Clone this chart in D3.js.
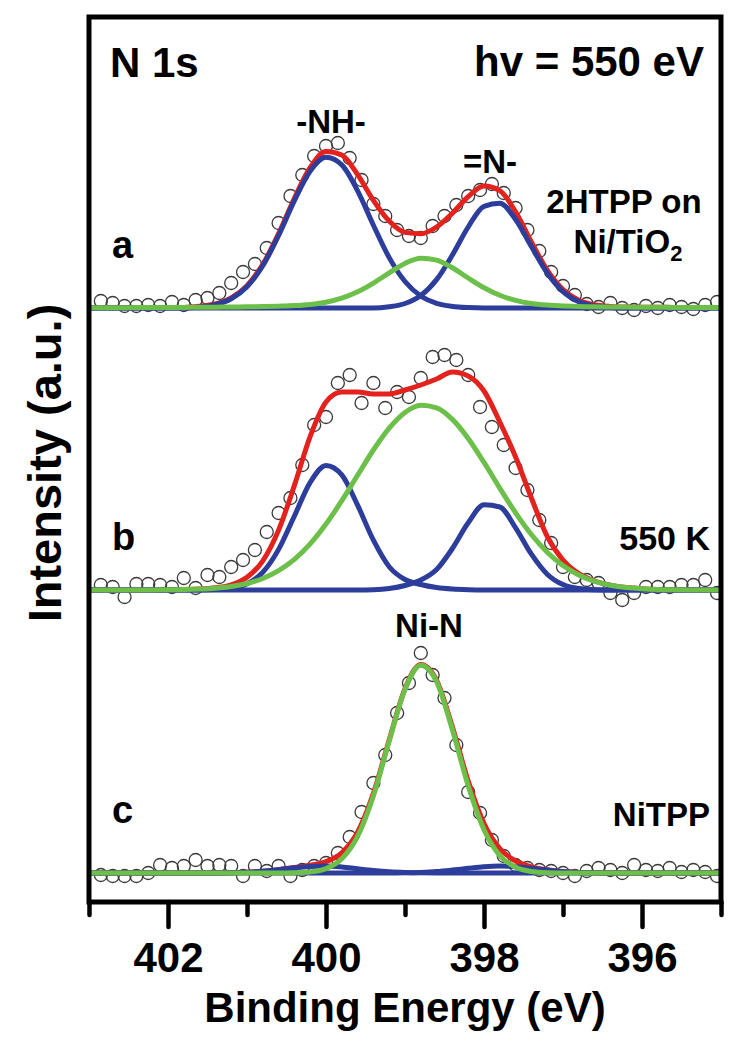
<!DOCTYPE html>
<html>
<head>
<meta charset="utf-8">
<script src="https://cdn.jsdelivr.net/npm/d3@7"></script>
<style>
  html, body { margin: 0; padding: 0; background: #ffffff; }
  svg { display: block; }
  text { font-family: "Liberation Sans", Arial, Helvetica, sans-serif; font-weight: bold; fill: #000; }
</style>
</head>
<body>
<div id="chart"></div>
<script>
// ---------------- DATA ----------------
// energy grid for the fitted curves (eV)
const curveEnergy = [403.0, 402.8, 402.6, 402.4, 402.2, 402.0, 401.8, 401.6, 401.4, 401.2,
  401.0, 400.8, 400.6, 400.4, 400.2, 400.0, 399.8, 399.6, 399.4, 399.2,
  399.0, 398.8, 398.6, 398.4, 398.2, 398.0, 397.8, 397.6, 397.4, 397.2,
  397.0, 396.8, 396.6, 396.4, 396.2, 396.0, 395.8, 395.6, 395.4, 395.2, 395.0];

// panel a : 2HTPP on Ni/TiO2
const aRed    = [0.3,0.3,0.3,0.4,0.4,0.5,0.6,1.8,4.2,10.2,22.4,43.6,74.3,109.7,140.5,156.5,152.9,133.4,107.7,86.9,75.6,74.3,81.0,94.8,111.4,122.0,117.4,96.1,66.0,37.9,18.5,7.8,3.2,1.5,0.9,0.8,0.7,0.6,0.5,0.5,0.4];
const aBlueNH = [0,0,0,0,0,0,0,1.1,3.4,9.2,21.2,42.2,72.5,107.3,136.9,150.7,143.1,117.2,82.8,50.4,26.5,12.0,4.7,1.6,0.4,0,0,0,0,0,0,0,0,0,0,0,0,0,0,0,0];
const aBlueN  = [0,0,0,0,0,0,0,0,0,0,0,0,0,0,0,0,0,0,0,1.3,4.5,12.5,28.4,53.0,81.0,101.7,104.7,88.5,61.5,35.0,16.4,6.3,2.0,0.5,0,0,0,0,0,0,0];
const aGreen  = [0.3,0.3,0.3,0.4,0.4,0.5,0.6,0.7,0.8,1.0,1.2,1.4,1.8,2.4,3.6,5.8,9.8,16.2,24.9,35.2,44.6,49.8,47.9,40.2,30.0,20.3,12.7,7.6,4.5,2.9,2.1,1.5,1.2,1.0,0.9,0.8,0.7,0.6,0.5,0.5,0.4];

// panel b : 550 K
const bRed    = [0,0,0,0,0.1,0.2,0.4,0.9,2.2,5.2,12.7,29.2,59.9,104.6,153.7,188,198,198,196,196,200,205,211,218,214,199,168,133,92,53.6,29.9,16.4,9.0,4.8,2.5,1.3,0.6,0.3,0.1,0,0];
const bBlueNH = [0,0,0,0,0,0,0,0,0.4,1.7,6.2,17.7,40.6,74.0,107.6,124.6,115.2,84.8,49.8,23.3,10.5,5.5,2.5,1.0,0.3,0,0,0,0,0,0,0,0,0,0,0,0,0,0,0,0];
const bBlueN  = [0,0,0,0,0,0,0,0,0,0,0,0,0,0,0,0,0,0,0.3,1.5,4.5,10.0,20.5,41.5,67.2,85.2,83.0,62.1,35.8,15.8,5.4,1.4,0.3,0,0,0,0,0,0,0,0];
const bGreen  = [0,0,0,0,0.1,0.2,0.4,0.9,1.8,3.5,6.5,11.5,19.3,30.6,46.1,65.9,89.3,114.8,140.0,161.8,177.5,184.7,182.2,170.6,151.5,127.6,101.9,77.2,55.5,37.8,24.5,15.0,8.7,4.8,2.5,1.3,0.6,0.3,0.1,0,0];

// panel c : NiTPP
const cRed    = [0,0,0,0,0,0,0,0,0,0.3,0.8,1.7,3.3,5.4,7.7,11.4,20.2,40.8,79.6,133.1,184.3,208.6,192.7,146.1,91.9,49.5,24.4,12.0,6.2,3.2,1.4,0.6,0.2,0,0,0,0,0,0,0,0];
const cBlueNH = [0,0,0,0,0,0,0,0,0,0.3,0.8,1.7,3.3,5.2,6.6,7.0,6.0,4.2,2.5,1.2,0.5,0.15,0,0,0,0,0,0,0,0,0,0,0,0,0,0,0,0,0,0,0];
const cBlueN  = [0,0,0,0,0,0,0,0,0,0,0,0,0,0,0,0,0,0,0,0,0.2,0.6,1.4,2.9,4.7,6.3,7.0,6.3,4.7,2.9,1.4,0.6,0.2,0,0,0,0,0,0,0,0];
const cGreen  = [0,0,0,0,0,0,0,0,0,0,0,0,0,0.2,1.1,4.4,14.2,36.6,77.1,131.9,183.6,207.8,191.3,143.2,87.2,43.2,17.4,5.7,1.5,0.3,0,0,0,0,0,0,0,0,0,0,0];

// measured points (open circles)
const pointEnergy = [402.85,402.70,402.55,402.40,402.25,402.10,401.95,401.80,401.65,401.50,
  401.35,401.20,401.05,400.90,400.75,400.60,400.45,400.30,400.15,400.00,
  399.85,399.70,399.55,399.40,399.25,399.10,398.95,398.80,398.65,398.50,
  398.35,398.20,398.05,397.90,397.75,397.60,397.45,397.30,397.15,397.00,
  396.85,396.70,396.55,396.40,396.25,396.10,395.95,395.80,395.65,395.50,
  395.35,395.20,395.05];
const aPoints = [7,5,2,2,3,2,6,3,8,10,15,25,36,44,60,85,112,133,152,162,165,150,128,104,92,78,72,70,82,92,103,112,118,124,115,100,78,57,36,22,13,4,1,5,0,-2,2,0,3,1,-1,3,6];
const bPoints = [5,3,-7,6,6,5,3,12,2,15,13,23,30,40,58,77,92,125,165,173,207,215,187,207,182,198,193,212,233,235,230,215,183,163,145,122,100,70,47,23,13,10,7,-3,-10,-3,3,3,3,5,5,10,-3];
const cPoints = [-2,-3,-3,-3,0,8,5,7,13,7,8,7,-3,7,2,7,-3,3,7,10,20,36,61,90,118,160,190,220,198,175,128,81,60,33,17,8,5,3,2,0,-3,2,5,3,0,8,3,2,5,1,3,1,-3];

// vertical offsets of the stacked spectra (a.u.)
const panelNames   = ["a", "b", "c"];
const panelOffsets = [594, 312, 29];

// axis
const xDomain = [403, 395];
const majorTicks = [402, 400, 398, 396];
const minorTicks = [403, 401, 399, 397, 395];
const majorTickLabels = ["402", "400", "398", "396"];

// ---------------- DRAWING ----------------
const W = 744, H = 1050;
const L = 89, R = 721, T = 17, B = 902;

const svg = d3.select("#chart").append("svg")
  .attr("width", W).attr("height", H);

const x = d3.scaleLinear().domain(xDomain).range([L, R]);
const y = d3.scaleLinear().domain([0, B - T]).range([B, T]);

const COLORS = { red: "#e3221e", blue: "#2c3d9b", green: "#6cc04a" };

svg.append("defs").append("clipPath").attr("id", "plotClip")
  .append("rect").attr("x", L).attr("y", T).attr("width", R - L).attr("height", B - T);

const plot = svg.append("g").attr("clip-path", "url(#plotClip)");

const panels = [
  { off: panelOffsets[0], pts: aPoints, lines: [[aRed, "red"], [aBlueNH, "blue"], [aBlueN, "blue"], [aGreen, "green"]] },
  { off: panelOffsets[1], pts: bPoints, lines: [[bRed, "red"], [bBlueNH, "blue"], [bBlueN, "blue"], [bGreen, "green"]] },
  { off: panelOffsets[2], pts: cPoints, lines: [[cRed, "red"], [cBlueNH, "blue"], [cBlueN, "blue"], [cGreen, "green"]] }
];

panels.forEach(p => {
  const g = plot.append("g");
  g.selectAll("circle").data(p.pts).enter().append("circle")
    .attr("cx", (d, i) => x(pointEnergy[i]))
    .attr("cy", d => y(d + p.off))
    .attr("r", 6.5)
    .attr("fill", "none")
    .attr("stroke", "#3a3a3a")
    .attr("stroke-width", 1.3);
  const line = d3.line()
    .x((d, i) => x(curveEnergy[i]))
    .y(d => y(d + p.off))
    .curve(d3.curveMonotoneX);
  p.lines.forEach(([vals, col]) => {
    g.append("path").datum(vals)
      .attr("d", line)
      .attr("fill", "none")
      .attr("stroke", COLORS[col])
      .attr("stroke-width", 5)
      .attr("stroke-linejoin", "round");
  });
});

// axes
const axMajor = d3.axisBottom(x).tickValues(majorTicks)
  .tickFormat((d, i) => majorTickLabels[i]).tickSize(25).tickPadding(15);
const axMinor = d3.axisBottom(x).tickValues(minorTicks)
  .tickFormat("").tickSize(13);

const gMin = svg.append("g").attr("transform", `translate(0,${B})`).call(axMinor);
const gMaj = svg.append("g").attr("transform", `translate(0,${B})`).call(axMajor);
[gMin, gMaj].forEach(g => {
  g.select(".domain").remove();
  g.selectAll(".tick line").attr("stroke", "#000").attr("stroke-width", 4.5).attr("stroke-linecap", "round");
});
gMaj.selectAll(".tick text")
  .style("font-size", "42px")
  .style("font-family", '"Liberation Sans", Arial, sans-serif')
  .style("font-weight", "bold")
  .attr("fill", "#000");

// frame
svg.append("rect").attr("x", L).attr("y", T).attr("width", R - L).attr("height", B - T)
  .attr("fill", "none").attr("stroke", "#000").attr("stroke-width", 5);

// axis titles
svg.append("text").attr("x", (L + R) / 2).attr("y", 1022)
  .attr("text-anchor", "middle").style("font-size", "42px").text("Binding Energy (eV)");
svg.append("text").attr("transform", `translate(61,463) rotate(-90)`)
  .attr("text-anchor", "middle").style("font-size", "47px").text("Intensity (a.u.)");

// annotations
function label(tx, ty, str, size, anchor) {
  return svg.append("text").attr("x", tx).attr("y", ty)
    .attr("text-anchor", anchor || "start").style("font-size", size + "px").text(str);
}
label(110, 77, "N 1s", 42);
label(704, 76, "hv = 550 eV", 42, "end");
label(331, 133, "-NH-", 33, "middle");
label(490, 173, "=N-", 33, "middle");
label(624, 213, "2HTPP on", 33, "middle");
const niti = svg.append("text").attr("x", 628).attr("y", 253)
  .attr("text-anchor", "middle").style("font-size", "33px");
niti.append("tspan").text("Ni/TiO");
niti.append("tspan").attr("dy", 8).style("font-size", "22px").text("2");
label(710, 550, "550 K", 34, "end");
label(429, 637, "Ni-N", 33, "middle");
label(710, 826, "NiTPP", 33, "end");
panelNames.forEach((n, i) => {
  label(112, [258, 550, 823][i], n, 38);
});
</script>
</body>
</html>
